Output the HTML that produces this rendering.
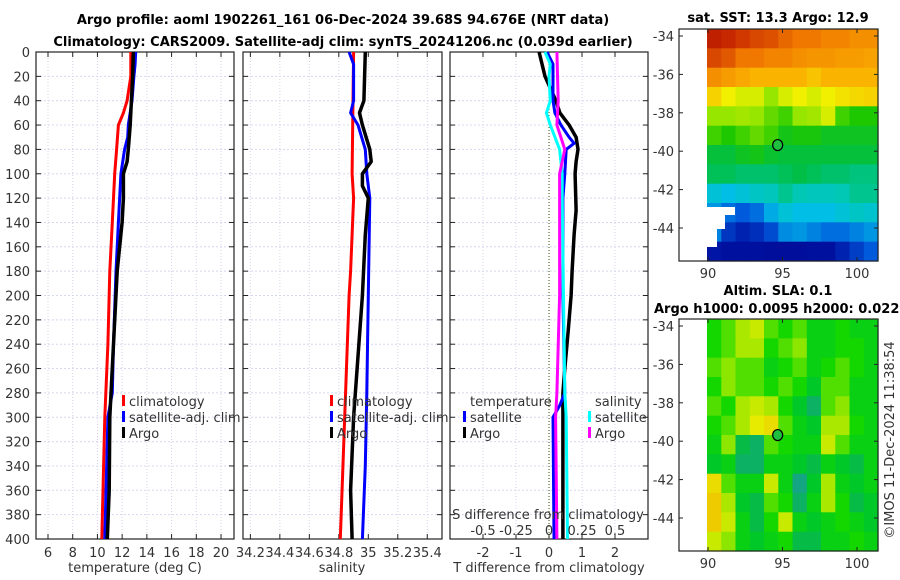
<!DOCTYPE html>
<html><head><meta charset="utf-8">
<style>
html,body{margin:0;padding:0;background:#fff;}
svg{display:block;font-family:"DejaVu Sans","Liberation Sans",sans-serif;}
.t{font-size:13px;fill:#333;}
.b{font-size:13px;font-weight:bold;fill:#000;}
</style></head>
<body>
<svg id="fig" width="900" height="580" viewBox="0 0 900 580" xmlns="http://www.w3.org/2000/svg">
<text class="b" x="343" y="24" text-anchor="middle">Argo profile: aoml 1902261_161 06-Dec-2024 39.68S 94.676E (NRT data)</text>
<text class="b" x="343" y="46" text-anchor="middle">Climatology: CARS2009. Satellite-adj clim: synTS_20241206.nc (0.039d earlier)</text>
<g id="g"></g>
</svg>
<script>
// ---- profile data (depth in dbar) ----
const tClimD=[0,20,40,50,60,80,100,140,180,240,300,400];
const tClimV=[12.7,12.7,12.4,12.1,11.7,11.55,11.4,11.2,11.0,10.85,10.6,10.35];
const tSatD=[0,10,20,40,60,70,80,100,140,180,240,280,300,400];
const tSatV=[13.1,13.05,12.95,12.8,12.5,12.45,12.2,11.9,11.7,11.5,11.3,11.2,10.85,10.6];
const tArgoD=[0,20,40,60,80,90,100,120,140,180,240,300,360,400];
const tArgoV=[12.9,12.85,12.75,12.65,12.5,12.4,12.1,12.1,12.0,11.6,11.3,11.0,10.95,10.8];
const sClimD=[0,100,120,180,200,300,400];
const sClimV=[34.90,34.89,34.90,34.88,34.87,34.84,34.81];
const sSatD=[0,10,40,50,60,80,100,120,200,280,340,400];
const sSatV=[34.87,34.90,34.90,34.88,34.93,34.98,34.99,35.01,35.0,34.99,34.98,34.96];
const sArgoD=[0,40,50,60,80,90,100,110,120,150,200,300,360,400];
const sArgoV=[34.98,34.97,34.94,34.96,35.01,35.02,34.96,34.96,35.0,34.98,34.96,34.90,34.88,34.89];
const dTArgoD=[0,20,40,50,60,70,80,90,100,130,150,180,200,230,260,280,400];
const dTArgoV=[-0.3,-0.12,0.21,0.33,0.61,0.82,0.88,0.82,0.79,0.82,0.76,0.70,0.67,0.58,0.48,0.42,0.42];
const dTSatD=[0,10,20,40,50,60,70,75,80,100,120,200,280,290,300,400];
const dTSatV=[-0.06,0.12,0.12,0.12,0.18,0.36,0.61,0.76,0.52,0.48,0.42,0.42,0.48,0.33,0.12,0.15];
const dSSatD=[0,10,20,40,50,60,80,100,120,200,280,300,400];
const dSSatV=[-0.03,0.01,0,0.01,-0.02,0.01,0.08,0.1,0.1,0.11,0.12,0.13,0.14];
const dSArgoD=[0,40,60,80,100,120,200,280,300,400];
const dSArgoV=[0.06,0.07,0.06,0.12,0.08,0.08,0.08,0.06,0.05,0.06];
const depthTicks=[0,20,40,60,80,100,120,140,160,180,200,220,240,260,280,300,320,340,360,380,400];
const tTicks=[6,8,10,12,14,16,18,20];
const sTicks=[34.2,34.4,34.6,34.8,35,35.2,35.4];
const dTTicks=[-2,-1,0,1,2];
const dSTicks=[-0.5,-0.25,0,0.25,0.5];
const dSTickLabels=["-0.5","-0.25","0","0.25","0.5"];
// ---- map grids (12 rows lat -34..-45.5, 12 cols lon 90..101) ----
const sstGrid=[
[.92,.9,.88,.86,.85,.82,.8,.8,.78,.78,.76,.76],
[.86,.84,.8,.8,.78,.78,.76,.75,.75,.74,.74,.73],
[.76,.74,.72,.7,.7,.7,.7,.68,.7,.7,.7,.7],
[.66,.62,.6,.6,.55,.6,.62,.6,.62,.64,.65,.66],
[.55,.55,.56,.55,.52,.5,.55,.56,.6,.5,.48,.48],
[.5,.48,.5,.52,.5,.46,.47,.47,.45,.45,.45,.45],
[.43,.43,.45,.46,.44,.43,.43,.43,.43,.43,.43,.43],
[.41,.41,.4,.4,.4,.41,.42,.41,.4,.4,.39,.39],
[.32,.3,.32,.34,.35,.38,.36,.35,.35,.36,.38,.38],
[.26,.22,.2,.22,.28,.32,.3,.3,.3,.32,.34,.33],
[.24,.15,.12,.14,.18,.25,.26,.24,.22,.22,.24,.26],
[.1,.08,.08,.08,.07,.07,.07,.08,.08,.12,.16,.2]];
const slaGrid=[
[.55,.6,.7,.75,.6,.55,.6,.5,.5,.55,.5,.5],
[.55,.6,.7,.7,.55,.6,.65,.5,.5,.55,.55,.5],
[.6,.65,.6,.6,.5,.55,.6,.5,.55,.6,.55,.5],
[.55,.65,.6,.6,.55,.6,.55,.45,.6,.6,.5,.5],
[.6,.55,.7,.75,.7,.55,.45,.35,.6,.65,.5,.5],
[.55,.6,.7,.8,.85,.6,.5,.45,.7,.7,.55,.5],
[.5,.65,.4,.35,.6,.55,.5,.5,.75,.6,.5,.5],
[.45,.5,.35,.35,.5,.5,.45,.4,.5,.45,.4,.5],
[.85,.6,.5,.5,.75,.5,.3,.45,.7,.5,.45,.5],
[.9,.7,.45,.4,.6,.55,.35,.5,.7,.55,.4,.45],
[.9,.75,.5,.4,.55,.75,.5,.45,.5,.55,.5,.45],
[.75,.65,.5,.45,.5,.55,.4,.4,.5,.5,.55,.5]];
const latTicks=[-34,-36,-38,-40,-42,-44];
const lonTicks=[90,95,100];
const argoLon=94.676, argoLat=-39.68;

const NS="http://www.w3.org/2000/svg";
const G=document.getElementById('g');
function mk(tag,attrs,parent){const e=document.createElementNS(NS,tag);for(const k in attrs)e.setAttribute(k,attrs[k]);(parent||G).appendChild(e);return e;}
const Y0=52,Y1=539;
const yD=d=>Y0+(d/400)*(Y1-Y0);

function panel(x0,x1,vmin,vmax,xticks,name){
  const sx=v=>x0+(v-vmin)/(vmax-vmin)*(x1-x0);
  const g=mk('g',{});
  
  
  xticks.forEach(v=>{const l=mk('line',{x1:sx(v),x2:sx(v),y1:Y0,y2:Y1,stroke:'#dcd0e8','stroke-width':1,'stroke-dasharray':'1,2'},g);
    
    mk('line',{x1:sx(v),x2:sx(v),y1:Y0,y2:Y0+5,stroke:'#222'},g);mk('line',{x1:sx(v),x2:sx(v),y1:Y1,y2:Y1-5,stroke:'#222'},g);});
  depthTicks.forEach(d=>{const l=mk('line',{x1:x0,x2:x1,y1:yD(d),y2:yD(d),stroke:'#d4d8f0','stroke-width':1,'stroke-dasharray':'2,2'},g);
    
    mk('line',{x1:x0,x2:x0+5,y1:yD(d),y2:yD(d),stroke:'#222'},g);mk('line',{x1:x1,x2:x1-5,y1:yD(d),y2:yD(d),stroke:'#222'},g);});
  const r=mk('rect',{x:x0,y:Y0,width:x1-x0,height:Y1-Y0,fill:'none',stroke:'#222','stroke-width':1.2},g);
  
  return {sx,g};
}
function line(p,D,V,color,w,name){
  const pts=D.map((d,i)=>p.sx(V[i]).toFixed(1)+','+yD(d).toFixed(1)).join(' ');
  const e=mk('polyline',{points:pts,fill:'none',stroke:color,'stroke-width':w,'stroke-linejoin':'round'},p.g);
  
}
function txt(x,y,s,anchor,name,cls,extra){const e=mk('text',Object.assign({x:x,y:y,'text-anchor':anchor||'start',class:cls||'t'},extra||{}));e.textContent=s;
  return e;}
function legendEntry(x,y,color,label,name){
  const m=mk('rect',{x:x,y:y-6,width:3,height:11,fill:color});
  
  txt(x+7,y+5,label,'start',name);
}

// Panel 1 temperature
const p1=panel(36,234,5.03,21.05,tTicks,'temperature-panel');
line(p1,tClimD,tClimV,'#ff0000',3,'temp-climatology-line');
line(p1,tSatD,tSatV,'#0000ff',3,'temp-satellite-adj-line');
line(p1,tArgoD,tArgoV,'#000',3.5,'temp-argo-line');
depthTicks.forEach(d=>txt(30,yD(d)+5,String(d),'end','depth-tick-label'));
tTicks.forEach(v=>txt(p1.sx(v),557,String(v),'middle','temp-tick-label'));
txt(135,572,'temperature (deg C)','middle','temp-axis-title');
legendEntry(122,401,'#ff0000','climatology','legend-climatology');
legendEntry(122,417,'#0000ff','satellite-adj. clim','legend-satellite-adj');
legendEntry(122,433,'#000','Argo','legend-argo');

// Panel 2 salinity
const p2=panel(243,442,34.15,35.5,sTicks,'salinity-panel');
line(p2,sClimD,sClimV,'#ff0000',3,'sal-climatology-line');
line(p2,sSatD,sSatV,'#0000ff',3,'sal-satellite-adj-line');
line(p2,sArgoD,sArgoV,'#000',3.5,'sal-argo-line');
sTicks.forEach(v=>txt(p2.sx(v),557,String(v),'middle','sal-tick-label'));
txt(342,572,'salinity','middle','sal-axis-title');
legendEntry(330,401,'#ff0000','climatology','legend2-climatology');
legendEntry(330,417,'#0000ff','satellite-adj. clim','legend2-satellite-adj');
legendEntry(330,433,'#000','Argo','legend2-argo');

// Panel 3 differences
const p3=panel(450,648,-3,3,dTTicks,'difference-panel');
const zl=mk('line',{x1:p3.sx(0),x2:p3.sx(0),y1:Y0,y2:Y1,stroke:'#556b2f','stroke-width':1.2,'stroke-dasharray':'1,2'},p3.g);

const pS={sx:v=>p3.sx(v*4),g:p3.g};
line(p3,dTArgoD,dTArgoV,'#000',3.5,'dT-argo-line');
line(p3,dTSatD,dTSatV,'#0000ff',3,'dT-satellite-line');
line(pS,dSSatD,dSSatV,'#00ffff',3,'dS-satellite-line');
line(pS,dSArgoD,dSArgoV,'#ff00ff',3,'dS-argo-line');
dTTicks.forEach(v=>txt(p3.sx(v),557,String(v),'middle','dT-tick-label'));
txt(549,572,'T difference from climatology','middle','dT-axis-title');
dSTicks.forEach((v,i)=>txt(pS.sx(v),535,dSTickLabels[i],'middle','dS-tick-label'));
txt(548,519,'S difference from climatology','middle','dS-axis-title');
txt(470,406,'temperature','start','legend-temperature-header');
txt(595,406,'salinity','start','legend-salinity-header');
legendEntry(463,417,'#0000ff','satellite','legend-dT-satellite');
legendEntry(463,433,'#000','Argo','legend-dT-argo');
legendEntry(588,417,'#00ffff','satellite','legend-dS-satellite');
legendEntry(588,433,'#ff00ff','Argo','legend-dS-argo');

// ---- maps ----
const sstStops=[[0,[0,0,130]],[.1,[0,20,165]],[.2,[0,90,220]],[.3,[0,190,230]],[.36,[0,200,180]],[.42,[0,190,70]],[.48,[30,200,0]],[.55,[150,230,0]],[.62,[240,240,0]],[.7,[250,180,0]],[.8,[240,120,0]],[.9,[200,40,0]],[1,[150,0,0]]];
const slaStops=[[0,[0,200,230]],[.3,[20,165,130]],[.45,[0,200,40]],[.55,[20,215,0]],[.65,[140,230,0]],[.8,[230,235,0]],[1,[245,170,0]]];
function cmap(st,v){for(let i=1;i<st.length;i++){if(v<=st[i][0]){const a=st[i-1],b=st[i],t=(v-a[0])/(b[0]-a[0]);return 'rgb('+a[1].map((c,k)=>Math.round(c+(b[1][k]-c)*t)).join(',')+')';}}return 'rgb('+st[st.length-1][1].join(',')+')';}
function map(top,grid,stops,name,mask){
  const X0=679,X1=878,H=232;
  const lonX=l=>708+(l-90)*14.9;
  const latY=la=>top+7+(-34-la)*19.2;
  const g=mk('g',{});
  
  const cx0=707,cw=(X1-cx0)/12,ch=H/12;
  grid.forEach((row,r)=>row.forEach((v,c)=>{
    const e=mk('rect',{x:(cx0+c*cw).toFixed(1),y:(top+r*ch).toFixed(1),width:(cw+0.6).toFixed(1),height:(ch+0.6).toFixed(1),fill:cmap(stops,v)},g);
    }));
  if(mask){const m=mk('path',{d:'M707,'+(top+178)+' h28 v8 h-10 v14 h-8 v18 h-10 z',fill:'#fff'},g);}
  const c=mk('ellipse',{cx:lonX(argoLon),cy:latY(argoLat),rx:5,ry:5.5,fill:'#1fbf3f',stroke:'#000','stroke-width':1.2},g);
  
  const f=mk('rect',{x:X0,y:top,width:X1-X0,height:H,fill:'none',stroke:'#222','stroke-width':1.2},g);
  
  latTicks.forEach(la=>{const y=latY(la);mk('line',{x1:X0,x2:X0+4,y1:y,y2:y,stroke:'#222'},g);mk('line',{x1:X1,x2:X1-4,y1:y,y2:y,stroke:'#222'},g);
    txt(674,y+5,String(la),'end','lat-tick-label');});
  lonTicks.forEach(lo=>{const x=lonX(lo);mk('line',{x1:x,x2:x,y1:top,y2:top+4,stroke:'#222'},g);mk('line',{x1:x,x2:x,y1:top+H,y2:top+H-4,stroke:'#222'},g);
    txt(x,top+H+17,String(lo),'middle','lon-tick-label');});
}
map(29,sstGrid,sstStops,'sst-map',true);
map(319,slaGrid,slaStops,'sla-map',false);
txt(778,22,'sat. SST: 13.3 Argo: 12.9','middle','sst-map-title','b');
txt(778,295,'Altim. SLA: 0.1','middle','sla-map-title','b');
txt(654,313,'Argo h1000: 0.0095 h2000: 0.022','start','sla-map-subtitle','b');
txt(0,0,'©IMOS 11-Dec-2024 11:38:54','middle','imos-timestamp','t',{transform:'translate(894,440) rotate(-90)'});
</script>
</body></html>
